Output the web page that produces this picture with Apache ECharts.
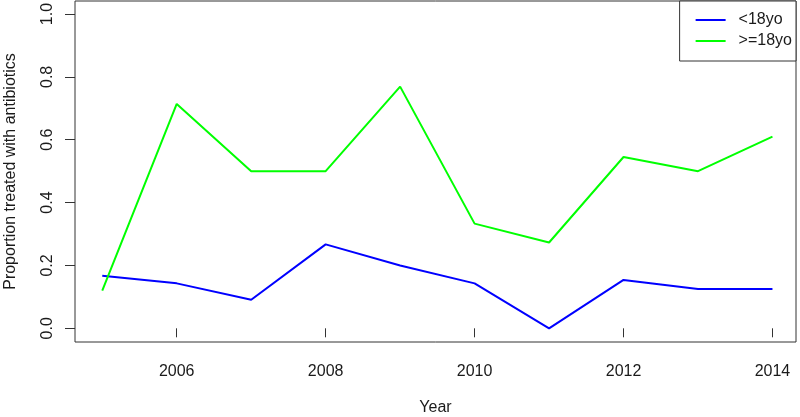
<!DOCTYPE html>
<html>
<head>
<meta charset="utf-8">
<script src="https://cdn.jsdelivr.net/npm/echarts@6/dist/echarts.min.js"></script>
<style>
  html, body { margin: 0; padding: 0; background: #fff; }
  #chart { width: 800px; height: 417px; }
</style>
</head>
<body>
<div id="chart"></div>
<script>
const years = [2005, 2006, 2007, 2008, 2009, 2010, 2011, 2012, 2013, 2014];
const under18 = [0.167, 0.143, 0.091, 0.267, 0.2, 0.143, 0.0, 0.154, 0.125, 0.125];
const over18 = [0.12, 0.714, 0.5, 0.5, 0.769, 0.333, 0.273, 0.545, 0.5, 0.61];
const xTicks = [2006, 2008, 2010, 2012, 2014];
const yTicks = [0, 0.2, 0.4, 0.6, 0.8, 1.0];
const seriesNames = ['<18yo', '>=18yo'];

const font = 'Liberation Sans, Arial, sans-serif';
const textColor = '#1a1a1a';

const chart = echarts.init(document.getElementById('chart'), null, { renderer: 'canvas' });
chart.setOption({
  animation: false,
  backgroundColor: '#ffffff',
  grid: {
    left: 75, right: 4, top: 1, bottom: 75,
    outerBoundsMode: 'none', containLabel: false,
    show: true, borderColor: '#333', borderWidth: 1, backgroundColor: 'transparent'
  },
  legend: {
    data: seriesNames,
    orient: 'vertical',
    right: 4, top: 1,
    padding: [11, 4, 12, 16],
    itemGap: 5,
    itemWidth: 30, itemHeight: 2,
    icon: 'rect',
    borderColor: '#333', borderWidth: 1,
    backgroundColor: '#fff',
    textStyle: { fontFamily: font, fontSize: 16, color: textColor, lineHeight: 16, padding: [0, 0, 0, 8] }
  },
  xAxis: {
    type: 'value',
    min: 2004.634, max: 2014.316,
    name: 'Year', nameLocation: 'middle', nameGap: 58,
    nameTextStyle: { fontFamily: font, fontSize: 16, color: textColor },
    axisLine: { show: false },
    splitLine: { show: false },
    axisTick: { show: true, length: 9, customValues: xTicks, lineStyle: { color: '#333' } },
    axisLabel: { customValues: xTicks, margin: 22, fontFamily: font, fontSize: 16, color: textColor,
                 formatter: v => String(v) }
  },
  yAxis: {
    type: 'value',
    min: -0.0436, max: 1.0414,
    name: 'Proportion treated with antibiotics', nameLocation: 'middle', nameGap: 56,
    nameTextStyle: { fontFamily: font, fontSize: 16, color: textColor },
    axisLine: { show: false },
    splitLine: { show: false },
    axisTick: { show: true, length: 10, customValues: yTicks, lineStyle: { color: '#333' } },
    axisLabel: { customValues: yTicks, rotate: 90, margin: 19, fontFamily: font, fontSize: 16, color: textColor,
                 formatter: v => Number(v).toFixed(1) }
  },
  series: [
    {
      name: seriesNames[0], type: 'line', symbol: 'none',
      data: years.map((y, i) => [y, under18[i]]),
      lineStyle: { color: '#0000ff', width: 2 }, itemStyle: { color: '#0000ff' }
    },
    {
      name: seriesNames[1], type: 'line', symbol: 'none',
      data: years.map((y, i) => [y, over18[i]]),
      lineStyle: { color: '#00ff00', width: 2 }, itemStyle: { color: '#00ff00' }
    }
  ]
});
</script>
</body>
</html>
